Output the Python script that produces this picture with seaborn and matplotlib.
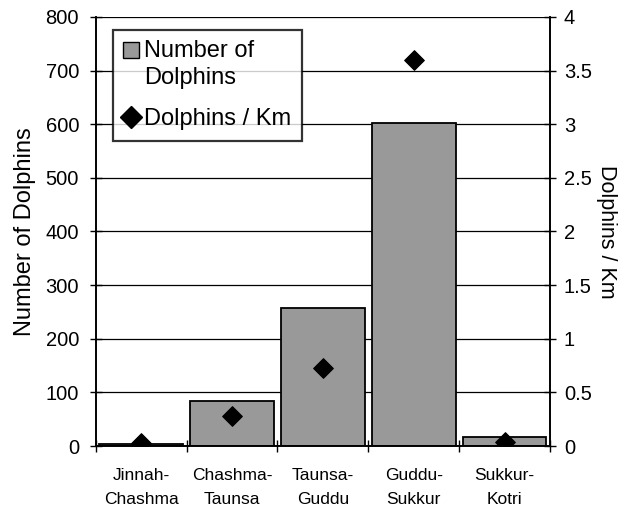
import pandas as pd
import numpy as np
import seaborn as sns
import matplotlib.pyplot as plt
from matplotlib.lines import Line2D
from matplotlib.patches import Patch, Rectangle
from matplotlib.legend_handler import HandlerPatch

segments = ['Jinnah-\nChashma', 'Chashma-\nTaunsa', 'Taunsa-\nGuddu', 'Guddu-\nSukkur', 'Sukkur-\nKotri']
n_dolphins = [3, 84, 258, 602, 17]
per_km = [0.025, 0.28, 0.73, 3.6, 0.04]

df = pd.DataFrame({'Segment': segments, 'Number': n_dolphins, 'PerKm': per_km})

sns.set_style('white')
plt.rcParams['font.family'] = ['Liberation Sans', 'DejaVu Sans']
plt.rcParams['text.color'] = 'black'
plt.rcParams['axes.labelcolor'] = 'black'
plt.rcParams['xtick.color'] = 'black'
plt.rcParams['ytick.color'] = 'black'

fig = plt.figure(figsize=(6.3, 5.11), dpi=100)
ax = fig.add_axes([0.152, 0.127, 0.721, 0.840])

sns.barplot(data=df, x='Segment', y='Number', color='#999999', saturation=1,
            edgecolor='black', linewidth=1.3, width=0.92, ax=ax, zorder=2)
ax.set_ylim(0, 800)
ax.set_xlim(-0.5, 4.5)
ax.set_yticks(range(0, 801, 100))
ax.grid(axis='y', color='black', linewidth=0.9, zorder=0)
ax.set_axisbelow(True)
ax.set_ylabel('Number of Dolphins', fontsize=17, labelpad=7)
ax.set_xlabel('')
ax.tick_params(axis='y', labelsize=14.5, direction='inout', length=8, width=1, left=True, pad=8)
ax.tick_params(axis='x', which='major', length=0, labelsize=12.5, pad=16)
for lab in ax.get_xticklabels():
    lab.set_linespacing(1.7)
ax.set_xticks(np.arange(-0.5, 5, 1), minor=True)
ax.tick_params(axis='x', which='minor', direction='inout', length=8, width=1, bottom=True)

ax2 = ax.twinx()
sns.scatterplot(x=np.arange(len(segments)), y=df['PerKm'], marker='D', color='black',
                s=100, edgecolor='black', ax=ax2, zorder=3)
ax2.set_ylim(0, 4)
ax2.set_yticks([0, 0.5, 1, 1.5, 2, 2.5, 3, 3.5, 4])
ax2.set_yticklabels(['0', '0.5', '1', '1.5', '2', '2.5', '3', '3.5', '4'])
ax2.tick_params(axis='y', labelsize=14.5, direction='inout', length=8, width=1, right=True, pad=6)
ax2.set_ylabel('Dolphins / Km', fontsize=15.5, rotation=270, labelpad=18)

for a in (ax, ax2):
    a.spines['top'].set_visible(False)
    for s in ('left', 'right', 'bottom'):
        a.spines[s].set_color('black')
        a.spines[s].set_linewidth(1.2)


def top_square(legend, orig_handle, xdescent, ydescent, width, height, fontsize):
    side = 0.68 * fontsize
    return Rectangle((-xdescent + (width - side) / 2, -ydescent + 0.65 * fontsize), side, side)


handles = [Patch(facecolor='#999999', edgecolor='black', linewidth=1),
           Line2D([], [], marker='D', color='black', linestyle='', markersize=11)]
leg = ax2.legend(handles, ['Number of\nDolphins', 'Dolphins / Km'], loc='upper left',
                 bbox_to_anchor=(0.037, 0.97), fontsize=17, frameon=True, fancybox=False,
                 handlelength=0.7, handletextpad=0.2, borderpad=0.45, labelspacing=0.8,
                 borderaxespad=0, handler_map={Patch: HandlerPatch(patch_func=top_square)})
for t in leg.get_texts():
    t.set_linespacing(1.3)
leg.get_frame().set_edgecolor('black')
leg.get_frame().set_linewidth(1.6)

plt.savefig('out.png', dpi=100)
